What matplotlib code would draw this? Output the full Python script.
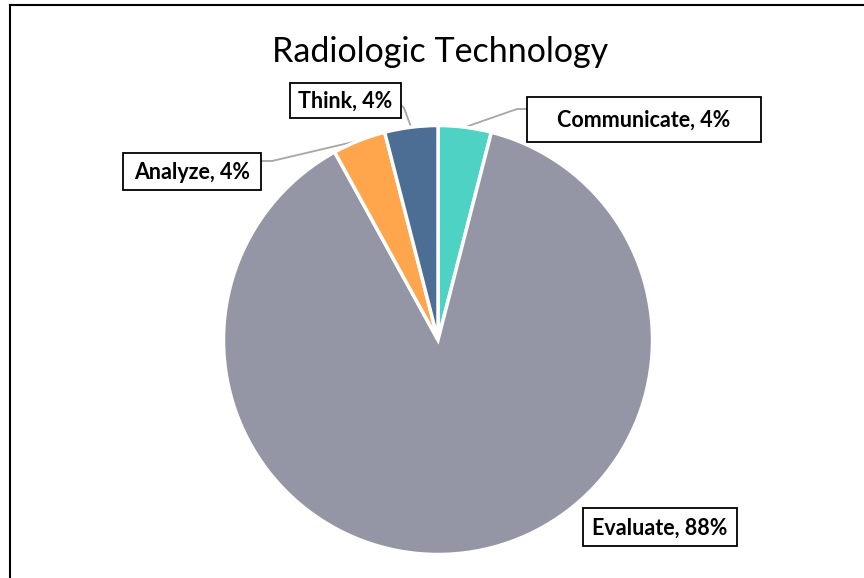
import numpy as np
import matplotlib
matplotlib.use("Agg")
import matplotlib.pyplot as plt
from matplotlib.lines import Line2D
from matplotlib.patches import Rectangle

title = "Radiologic Technology"
categories = ["Communicate", "Evaluate", "Analyze", "Think"]
values = [4, 88, 4, 4]
colors = ["#4DD2C4", "#9495A5", "#FFA64D", "#4D6E94"]

W, H = 864, 578
fig = plt.figure(figsize=(W / 100, H / 100), dpi=100)
ax = fig.add_axes([0, 0, 1, 1])


def P(x, y):
    """pixel position (from top-left) -> data coords"""
    return x, H - y


cx, cy, r = 438, 340, 214.5
wedges, _ = ax.pie(values, colors=colors, startangle=90, counterclock=False,
                   center=P(cx, cy), radius=r, frame=True,
                   wedgeprops=dict(edgecolor="white", linewidth=2.5))
ax.set_xlim(0, W)
ax.set_ylim(0, H)
ax.set_aspect("equal")
ax.axis("off")

# label box centers / sizes and leader elbow points (layout)
label_box = {
    "Communicate": (644, 119.5, 234, 45),
    "Evaluate": (660, 527, 154, 38),
    "Analyze": (192, 171.5, 138, 37),
    "Think": (345.5, 100.5, 111, 35),
}
elbows = {
    "Communicate": [(517, 109), (527, 109)],
    "Analyze": [(272, 161), (261, 161)],
    "Think": [(404, 108), (402, 106)],
}

fam = ["Lato", "DejaVu Sans"]
total = sum(values)
for w, cat, v in zip(wedges, categories, values):
    pct = round(100 * v / total)
    bx, by, bw, bh = label_box[cat]
    x0, y0 = P(bx - bw / 2, by + bh / 2)
    ax.add_patch(Rectangle((x0, y0), bw, bh, fc="white", ec="black", lw=1.3, zorder=3))
    ax.text(*P(bx, by + 1), f"{cat}, {pct}%", ha="center", va="center",
            fontsize=15.5, fontweight="bold", family=fam, color="black", zorder=4)
    if cat in elbows:
        ang = np.deg2rad((w.theta1 + w.theta2) / 2)
        sx = cx + r * np.cos(ang)
        sy = cy - r * np.sin(ang)
        pts = [P(sx, sy)] + [P(*p) for p in elbows[cat]]
        ax.plot([p[0] for p in pts], [p[1] for p in pts], color="#A6A6A6",
                lw=1.3, zorder=0.5)

ax.text(*P(440.5, 52), title, ha="center", va="center", fontsize=24.5,
        family=fam, color="black")

# chart area border (top and left visible)
fig.add_artist(Line2D([9.5 / W, 1], [1 - 4.5 / H, 1 - 4.5 / H], color="black", lw=1.5))
fig.add_artist(Line2D([9.5 / W, 9.5 / W], [0, 1 - 4.5 / H], color="black", lw=1.5))

fig.savefig("out.png", dpi=100)
